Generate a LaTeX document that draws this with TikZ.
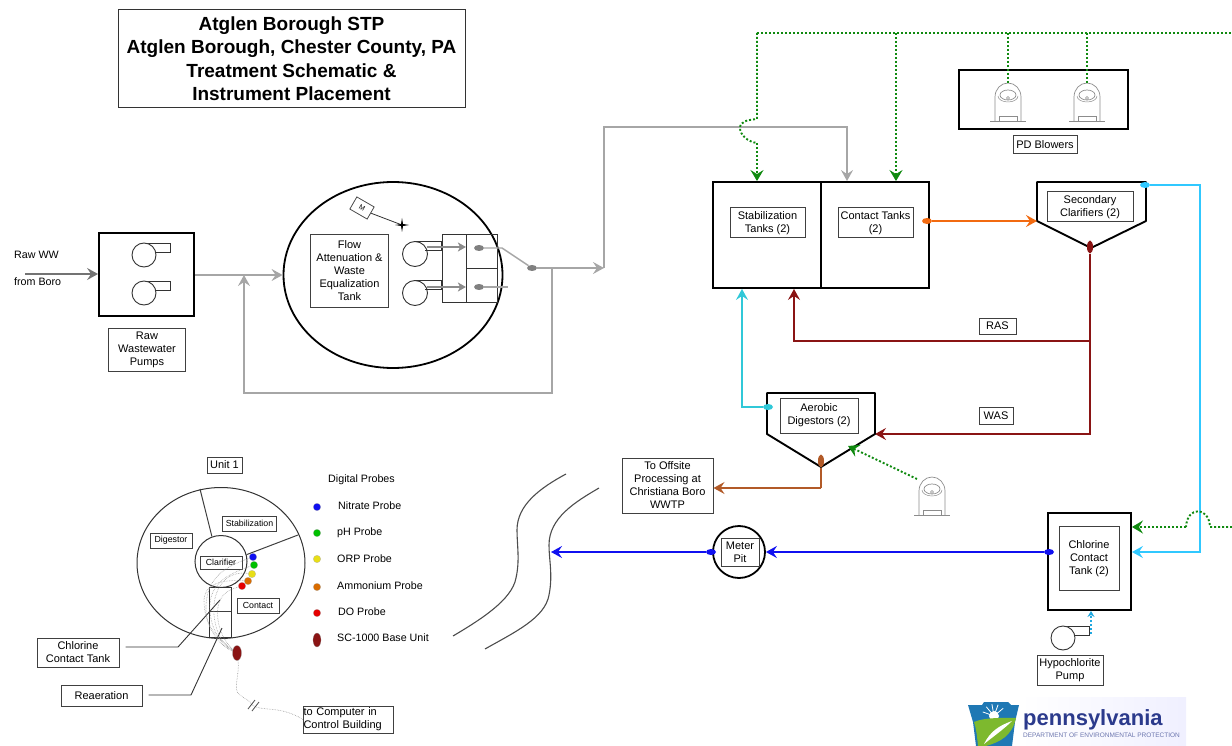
\documentclass[tikz,border=0pt]{standalone}
\usepackage{fontspec}
\setmainfont{Liberation Sans}
\usepackage{tikz}
\usetikzlibrary{positioning, arrows.meta, calc, shapes.geometric, decorations.pathmorphing}
\definecolor{cRaw}{HTML}{A6A6A6}
\definecolor{cAir}{HTML}{108A10}
\definecolor{cMixed}{HTML}{F26A10}
\definecolor{cSludge}{HTML}{8A1414}
\definecolor{cReturn}{HTML}{30C8FF}
\definecolor{cSuper}{HTML}{30C8D8}
\definecolor{cFinal}{HTML}{1010F0}
\definecolor{cHaul}{HTML}{B25A28}
\definecolor{cDose}{HTML}{20A8E0}
\definecolor{cKeyBlue}{HTML}{1F78B4}
\definecolor{cKeyGreen}{HTML}{7DB92E}
\definecolor{cKeyText}{HTML}{2B3A8C}
\tikzset{
  tank/.style={rectangle, draw=black, line width=1.9pt, fill=white},
  labelbox/.style={
    rectangle, draw=black!75, line width=1pt, fill=white, inner sep=0pt,
    font=\fontsize{11}{13}\selectfont, align=center
  },
  planbox/.style={labelbox, font=\fontsize{8.8}{10}\selectfont},
  plaintext/.style={font=\fontsize{10.7}{13}\selectfont, anchor=west, inner sep=0pt},
  flow/.style={-{Stealth[length=11pt, width=12pt, inset=4pt]}, line width=1.4pt, draw=#1},
  feed/.style={line width=1.4pt, draw=#1},
  airline/.style={-{Stealth[length=11pt, width=13pt, inset=4pt]}, draw=cAir, line width=1.9pt,
    dash pattern=on 2pt off 2pt},
  airfeed/.style={draw=cAir, line width=1.9pt, dash pattern=on 2pt off 2pt},
  tapdot/.style={ellipse, fill=#1, inner sep=0pt, minimum width=10pt, minimum height=6pt},
  probe/.style={circle, fill=#1, draw=black!30, line width=0.2pt, inner sep=0pt, minimum size=7.5pt},
  wire/.style={draw=black!40, line width=0.6pt, densely dotted},
  partline/.style={draw=black!75, line width=1pt},
  pump/.pic={
    \draw[black!80, line width=0.9pt] (-1,-12) -- (26,-12) -- (26,-3) -- (10,-3);
    \draw[black!80, line width=0.9pt, fill=white] (0,0) circle (12);
  },
  blower/.pic={
    \draw[black!45, line width=0.7pt] (-13,24) -- (-13,0) arc[start angle=180, end angle=0, x radius=13, y radius=-14] -- (13,24);
    \draw[black!45, line width=0.7pt] (0,-2) ellipse (8 and 5);
    \draw[black!45, line width=0.5pt] (-10,-1) arc[start angle=180, end angle=360, x radius=10, y radius=-6];
    \draw[black!45, line width=0.5pt] (0,1) circle (1.5);
    \draw[black!45, line width=0.7pt] (-18,24) -- (18,24);
    \draw[black!45, line width=0.6pt] (-9,24) -- (-9,19) -- (9,19) -- (9,24);
  },
}
\begin{document}
\begin{tikzpicture}[x=1pt, y=-1pt]
  \useasboundingbox (0,0) rectangle (1232,746);

  % title
  \node[draw=black!80, line width=1pt, minimum width=347pt, minimum height=98pt, inner sep=0pt, align=center,
        font=\fontsize{19}{23.5}\selectfont\bfseries] (title) at (291.5,58.5)
    {Atglen Borough STP\\Atglen Borough, Chester County, PA\\Treatment Schematic \&\\Instrument Placement};

  % headworks
  \node[plaintext] (rawww) at (14,255) {Raw WW};
  \node[plaintext] (fromboro) at (14,282) {from Boro};
  \node[tank, minimum width=95pt, minimum height=83pt] (rawpumps) at (146.5,274.5) {};
  \coordinate (rawin) at (25,274);
  \draw[flow=black!55] (rawin) -- (rawin -| rawpumps.west);
  \pic at (144,255) {pump};
  \pic at (144,293) {pump};
  \node[labelbox, minimum width=77pt, minimum height=43pt] (rawlabel) at (147,350) {Raw\\Wastewater\\Pumps};

  % equalization
  \node[ellipse, draw=black, line width=1.8pt, minimum width=219pt, minimum height=186pt, inner sep=0pt] (eqtank) at (393,275) {};
  \node[labelbox, minimum width=78pt, minimum height=72pt] (eqlabel) at (349.5,271) {Flow\\Attenuation \&\\Waste\\Equalization\\Tank};
  \node[draw=black!70, line width=0.8pt, fill=white, rotate=-30, minimum width=20pt, minimum height=14pt, inner sep=0pt,
        font=\fontsize{7}{8}\selectfont] (mixer) at (362,208) {M};
  \coordinate (prop) at (402,225);
  \draw[black!80, line width=0.8pt] (mixer.east) -- (prop);
  \fill[black] (prop) ++(-7,0) -- ++(6,-1) -- ++(1,-6) -- ++(1,6) -- ++(6,1) -- ++(-6,1) -- ++(-1,6) -- ++(-1,-6) -- cycle;
  \node[draw=black!80, line width=0.9pt, minimum width=24pt, minimum height=68pt, inner sep=0pt] (wetwell) at (454,268) {};
  \node[draw=black!80, line width=0.9pt, minimum width=31pt, minimum height=34pt, inner sep=0pt] (valvea) at (481.5,251) {};
  \node[draw=black!80, line width=0.9pt, minimum width=31pt, minimum height=34pt, inner sep=0pt] (valveb) at (481.5,285) {};
  \node[circle, draw=black!80, line width=0.9pt, fill=white, minimum size=25pt, inner sep=0pt] (pumpa) at (415,254) {};
  \node[circle, draw=black!80, line width=0.9pt, fill=white, minimum size=25pt, inner sep=0pt] (pumpb) at (415,293) {};
  \draw[black!80, line width=0.9pt] (pumpa.north) -- ++(26,0) -- ++(0,9) -- ++(-16,0);
  \draw[black!80, line width=0.9pt] (pumpb.north) -- ++(26,0) -- ++(0,9) -- ++(-16,0);
  \draw[-{Stealth[length=8pt, width=9pt, inset=2pt]}, draw=black!45, line width=2.4pt] (pumpa.east) ++(-1,-7) -- ++(39,0);
  \draw[-{Stealth[length=8pt, width=9pt, inset=2pt]}, draw=black!45, line width=2.4pt] (pumpb.east) ++(-1,-6) -- ++(39,0);

  \node[tapdot=black!50] (tapa) at (479,248) {};
  \node[tapdot=black!50] (tapb) at (479,287) {};
  \node[tapdot=black!50] (tapjoin) at (532,268) {};
  \coordinate (riser) at (604,268);
  \coordinate (splitbox) at (847,127);
  \coordinate (returnup) at (552,268);
  \draw[feed=cRaw] (tapa) -- (502,248) -- (tapjoin);
  \draw[feed=cRaw] (tapb) -- (508,287);
  \draw[flow=cRaw] (tapjoin) -- (riser);
  \draw[flow=cRaw] (rawpumps.east |- eqtank.west) -- (eqtank.west);
  \draw[flow=cRaw] (returnup) -- (552,393) -- (244,393) -- (244,275);

  % aeration tanks
  \node[tank, minimum width=108pt, minimum height=106pt] (stabtank) at (767,235) {};
  \node[tank, minimum width=108pt, minimum height=106pt] (conttank) at (875,235) {};
  \node[labelbox, minimum width=75pt, minimum height=30pt] (stablabel) at (767.5,223) {Stabilization\\Tanks (2)};
  \node[labelbox, minimum width=75pt, minimum height=30pt] (contlabel) at (875.5,223) {Contact Tanks\\(2)};
  \draw[flow=cRaw] (riser) -- (604,127) -- (splitbox) -- (splitbox |- conttank.north);

  % blowers
  \node[draw=black, line width=1.4pt, minimum width=169pt, minimum height=59pt, inner sep=0pt] (blowerbox) at (1043.5,99.5) {};
  \node[labelbox, minimum width=64pt, minimum height=18pt] (blowerlabel) at (1045,145) {PD Blowers};
  \pic at (1008,97) {blower};
  \pic at (1087,97) {blower};
  \coordinate (airstart) at (757,33);
  \coordinate (airend) at (1232,33);
  \coordinate (aira) at (896,33);
  \coordinate (airb) at (1008,33);
  \coordinate (airc) at (1087,33);
  \coordinate (airdrop) at (757,143);
  \draw[airfeed] (airstart) -- (airend);
  \draw[airfeed] (airb) -- (1008,83);
  \draw[airfeed] (airc) -- (1087,83);
  \draw[airline] (aira) -- (aira |- conttank.north);
  \draw[airfeed] (airstart) -- (757,119) .. controls (748,120) and (740,121) .. (740,128) .. controls (740,135) and (748,142) .. (airdrop);
  \draw[airline] (airdrop) -- (airdrop |- stabtank.north);

  % secondary clarifier
  \coordinate (clfa) at (1037,182);
  \coordinate (clfb) at (1146,182);
  \coordinate (clfc) at (1146,221);
  \coordinate (clfd) at (1091,248);
  \coordinate (clfe) at (1037,221);
  \draw[black, line width=1.9pt, line join=round] (clfa) -- (clfb) -- (clfc) -- (clfd) -- (clfe) -- cycle;
  \node[labelbox, minimum width=86pt, minimum height=30pt] (clflabel) at (1090,207) {Secondary\\Clarifiers (2)};
  \node[tapdot=cMixed] (tapcont) at (927,221) {};
  \draw[flow=cMixed] (tapcont) -- (clfe);

  % sludge
  \node[ellipse, fill=cSludge, inner sep=0pt, minimum width=6pt, minimum height=13pt] (tapsludge) at (1090,247) {};
  \coordinate (rasturn) at (1090,341);
  \coordinate (wasturn) at (1090,434);
  \coordinate (rasup) at (794,341);
  \coordinate (dighead) at (875,434);
  \draw[feed=cSludge] (tapsludge) -- (rasturn);
  \draw[flow=cSludge] (rasturn) -- (rasup) -- (rasup |- stabtank.south);
  \draw[flow=cSludge] (rasturn) -- (wasturn) -- (dighead);
  \node[labelbox, minimum width=37pt, minimum height=16pt] (raslabel) at (997.5,326) {RAS};
  \node[labelbox, minimum width=34pt, minimum height=17pt] (waslabel) at (996,415.5) {WAS};

  % digester
  \coordinate (diga) at (767,393);
  \coordinate (digb) at (875,393);
  \coordinate (digd) at (821,467);
  \coordinate (dige) at (767,434);
  \draw[black, line width=1.9pt, line join=round] (diga) -- (digb) -- (dighead) -- (digd) -- (dige) -- cycle;
  \node[labelbox, minimum width=78pt, minimum height=35pt] (diglabel) at (819,415.5) {Aerobic\\Digestors (2)};
  \node[tapdot=cSuper] (tapsuper) at (768,407) {};
  \coordinate (superturn) at (742,407);
  \draw[flow=cSuper] (tapsuper) -- (superturn) -- (superturn |- stabtank.south);
  \node[ellipse, fill=cHaul, inner sep=0pt, minimum width=6pt, minimum height=13pt] (taphaul) at (821,461) {};
  \node[labelbox, minimum width=91pt, minimum height=55pt] (haullabel) at (667.5,485.5) {To Offsite\\Processing at\\Christiana Boro\\WWTP};
  \coordinate (haulturn) at (821,488);
  \draw[feed=cHaul] (taphaul) -- (haulturn);
  \draw[flow=cHaul] (haulturn) -- (haullabel.east |- haulturn);
  \pic at (932,491) {blower};
  \coordinate (digblower) at (917,479);
  \coordinate (digair) at (848,446);
  \draw[airline] (digblower) -- (digair);

  % river
  \coordinate (rivera) at (566,474);
  \coordinate (riverb) at (453,636);
  \coordinate (riverc) at (599,488);
  \coordinate (riverd) at (485,649);
  \draw[black!70, line width=1.1pt] (rivera) .. controls (540,488) and (517,505) .. (517,530) .. controls (517,545) and (520,560) .. (516,578) .. controls (512,600) and (480,620) .. (riverb);
  \draw[black!70, line width=1.1pt] (riverc) .. controls (575,502) and (549,518) .. (549,545) .. controls (549,560) and (553,575) .. (549,595) .. controls (545,618) and (515,632) .. (riverd);

  % chlorine contact, outfall
  \node[tank, minimum width=83pt, minimum height=97pt] (cltank) at (1089.5,561.5) {};
  \node[labelbox, minimum width=60pt, minimum height=64pt] (cllabel) at (1089,558.5) {Chlorine\\Contact\\Tank (2)};
  \node[circle, draw=black, line width=1.8pt, fill=white, minimum size=52pt, inner sep=0pt] (meterpit) at (739,552) {};
  \node[labelbox, minimum width=38pt, minimum height=28pt] (meterlabel) at (740,552) {Meter\\Pit};
  \node[tapdot=cFinal] (tapcl) at (1049,552) {};
  \node[tapdot=cFinal] (tapmeter) at (711,552) {};
  \coordinate (outfall) at (551,552);
  \draw[flow=cFinal, line width=2pt] (tapcl) -- (meterpit.east);
  \draw[flow=cFinal, line width=2pt] (tapmeter) -- (outfall);

  % return water and air on the right
  \node[tapdot=cReturn] (tapsec) at (1145,185) {};
  \coordinate (retcorner) at (1200,185);
  \coordinate (retdown) at (1200,552);
  \draw[flow=cReturn] (tapsec) -- (retcorner) -- (retdown) -- (retdown -| cltank.east);
  \coordinate (airright) at (1232,527);
  \coordinate (hopa) at (1210,527);
  \coordinate (hopb) at (1186,527);
  \draw[airfeed] (airright) -- (hopa) .. controls (1209,506) and (1187,506) .. (hopb);
  \draw[airline] (hopb) -- (hopb -| cltank.east);

  % hypochlorite
  \pic at (1063,638) {pump};
  \node[labelbox, minimum width=66pt, minimum height=30pt] (hypolabel) at (1070,670) {Hypochlorite\\Pump};
  \coordinate (hypoout) at (1091,634);
  \draw[-{Stealth[length=6pt, width=7pt]}, draw=cDose, line width=1.9pt, dash pattern=on 2pt off 2pt] (hypoout) -- (hypoout |- cltank.south);

  % plant plan
  \node[ellipse, draw=black!80, line width=1pt, minimum width=168pt, minimum height=151pt, inner sep=0pt] (plan) at (221,563) {};
  \node[circle, draw=black!80, line width=1pt, minimum size=52pt, inner sep=0pt] (planclf) at (221,561.5) {};
  \coordinate (parta) at (200,489);
  \coordinate (partb) at (298,535);
  \draw[partline] (parta) -- (planclf.110);
  \draw[partline] (partb) -- (planclf.15);
  \node[draw=black!80, line width=1pt, minimum width=22pt, minimum height=50pt, inner sep=0pt, anchor=north] (planrect) at (220,587) {};
  \draw[partline] (planrect.west) ++(0,-1) -- ++(22,0);
  \node[labelbox, minimum width=35pt, minimum height=16pt] (unitlabel) at (224.5,465) {Unit 1};
  \node[planbox, minimum width=54pt, minimum height=15pt] (planstab) at (249.5,523.5) {Stabilization};
  \node[planbox, minimum width=42pt, minimum height=15pt] (plandig) at (171,540.5) {Digestor};
  \node[planbox, minimum width=42pt, minimum height=13pt] (planclar) at (221,562.5) {Clarifier};
  \node[planbox, minimum width=42pt, minimum height=15pt] (plancont) at (258,605.5) {Contact};
  \node[labelbox, minimum width=82pt, minimum height=29pt] (chlabel) at (78,652.5) {Chlorine\\Contact Tank};
  \node[labelbox, minimum width=81pt, minimum height=21pt] (realabel) at (101.5,696) {Reaeration};
  \node[labelbox, text width=90pt, minimum height=27pt, align=left] (complabel) at (348.5,719.5) {to Computer in\\Control Building};
  \coordinate (chbend) at (178,647);
  \coordinate (chend) at (220,600);
  \coordinate (reabend) at (191,695);
  \coordinate (reaend) at (222,628);
  \draw[black!80, line width=0.9pt] (chlabel.east |- chbend) ++(6,0) -- (chbend) -- (chend);
  \draw[black!80, line width=0.9pt] (realabel.east |- reabend) ++(6,0) -- (reabend) -- (reaend);

  \node[probe=cFinal] (pblue) at (253,557) {};
  \node[probe=green!75!black] (pgreen) at (254,565) {};
  \node[probe=yellow!90!black] (pyellow) at (252,574) {};
  \node[probe=orange!85!black] (porange) at (248,581) {};
  \node[probe=red!90!black] (pred) at (242,586) {};
  \node[ellipse, fill=cSludge, draw=black!40, line width=0.2pt, inner sep=0pt, minimum width=9pt, minimum height=15pt] (baseunit) at (237,653) {};
  \draw[wire] (pblue) .. controls (230,565) and (205,575) .. (206,610) .. controls (207,630) and (220,640) .. (baseunit);
  \draw[wire] (pgreen) .. controls (225,575) and (208,585) .. (210,612) .. controls (212,632) and (222,645) .. (baseunit);
  \draw[wire] (pyellow) .. controls (225,570) and (212,590) .. (214,615) .. controls (216,635) and (224,645) .. (baseunit);
  \draw[wire] (porange) .. controls (230,580) and (205,580) .. (204,600) .. controls (204,625) and (218,645) .. (baseunit);
  \draw[wire] (pred) .. controls (228,590) and (215,595) .. (218,620) .. controls (220,635) and (228,645) .. (baseunit);
  \coordinate (breakpt) at (252,705);
  \draw[wire] (baseunit) .. controls (240,675) and (232,690) .. (240,695) .. controls (246,700) and (250,700) .. (breakpt);
  \draw[wire] (breakpt) .. controls (262,712) and (280,705) .. (complabel.west);
  \draw[black!70, line width=0.8pt] (248,709) -- (255,700);
  \draw[black!70, line width=0.8pt] (252,711) -- (259,702);

  % legend
  \node[plaintext] (legtitle) at (328,480) {Digital Probes};
  \node[probe=cFinal] (legblue) at (317,507) {};
  \node[probe=green!75!black] (leggreen) at (317,533) {};
  \node[probe=yellow!90!black] (legyellow) at (317,559) {};
  \node[probe=orange!85!black] (legorange) at (317,587) {};
  \node[probe=red!90!black] (legred) at (317,613) {};
  \node[ellipse, fill=cSludge, draw=black!40, line width=0.2pt, inner sep=0pt, minimum width=8pt, minimum height=14pt] (legbase) at (317,640) {};
  \node[plaintext] (txtblue) at (338,506) {Nitrate Probe};
  \node[plaintext] (txtgreen) at (337,533) {pH Probe};
  \node[plaintext] (txtyellow) at (337,559) {ORP Probe};
  \node[plaintext] (txtorange) at (337,586) {Ammonium Probe};
  \node[plaintext] (txtred) at (338,612) {DO Probe};
  \node[plaintext] (txtbase) at (337,638) {SC-1000 Base Unit};

  % logo
  \fill[left color=white, right color=blue!6] (1020,697) rectangle (1186,746);
  \fill[cKeyBlue] (968,705) -- (982,705) -- (984,702) -- (1008,702) -- (1011,705) -- (1019,705) -- (1015,722) -- (1012,746) -- (976,746) -- (973,722) -- cycle;
  \foreach \ang in {200,230,...,340}
    \draw[white, line width=0.8pt] (994,716) -- ++(\ang:12);
  \fill[white] (994,716) circle (5);
  \fill[cKeyGreen] (974,722) .. controls (985,717) and (1005,718) .. (1016,718) .. controls (1012,736) and (1000,742) .. (986,746) -- (978,746) .. controls (977,735) and (976,728) .. (974,722) -- cycle;
  \fill[white] (984,744) .. controls (990,732) and (998,726) .. (1012,721) .. controls (1004,729) and (994,736) .. (984,744) -- cycle;
  \node[text=cKeyText, font=\fontsize{22}{24}\selectfont\bfseries, anchor=west, inner sep=0pt] (logotext) at (1023,720) {pennsylvania};
  \node[text=cKeyText!70, font=\fontsize{6.5}{7}\selectfont, anchor=west, inner sep=0pt] (logosub) at (1023,735) {DEPARTMENT OF ENVIRONMENTAL PROTECTION};
\end{tikzpicture}
\end{document}
